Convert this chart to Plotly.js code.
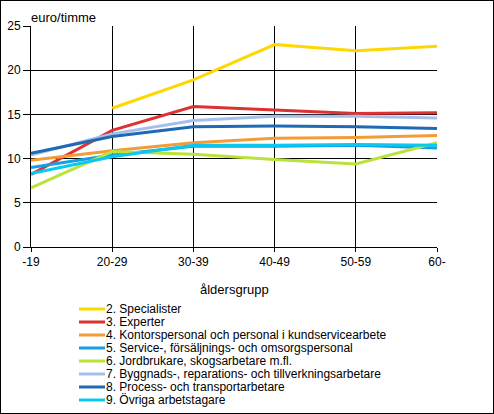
<!DOCTYPE html>
<html>
<head>
<meta charset="utf-8">
<script src="https://cdn.plot.ly/plotly-3.0.1.min.js"></script>
<style>
  body { margin: 0; background: #fff; }
  #chart { width: 492px; height: 412px; border: 1px solid #000; }
</style>
</head>
<body>
<div id="chart"></div>
<script>
var ageGroups = ["-19", "20-29", "30-39", "40-49", "50-59", "60-"];

var names = [
  "2. Specialister",
  "3. Experter",
  "4. Kontorspersonal och personal i kundservicearbete",
  "5. Service-, försäljnings- och omsorgspersonal",
  "6. Jordbrukare, skogsarbetare m.fl.",
  "7. Byggnads-, reparations- och tillverkningsarbetare",
  "8. Process- och transportarbetare",
  "9. Övriga arbetstagare"
];

var colors = ["#ffd700", "#dc3232", "#f29c38", "#14a0e6", "#b9e33a", "#a6beeb", "#1e6ab4", "#0ac8f0"];

// euro/timme per åldersgrupp
var specialister = [null, 15.7, 18.9, 22.9, 22.2, 22.7];
var experter     = [8.2, 13.2, 15.9, 15.5, 15.1, 15.2];
var kontor       = [9.8, 10.9, 11.8, 12.3, 12.4, 12.6];
var service      = [9.0, 10.4, 11.4, 11.4, 11.5, 11.2];
var jordbruk     = [6.7, 10.8, 10.5, 9.9, 9.4, 11.8];
var byggnad      = [10.4, 12.8, 14.3, 14.8, 14.8, 14.6];
var process      = [10.6, 12.5, 13.6, 13.7, 13.6, 13.4];
var ovriga       = [8.3, 10.2, 11.5, 11.5, 11.6, 11.5];

var series = [specialister, experter, kontor, service, jordbruk, byggnad, process, ovriga];

var data = [];
for (i = 0; i < series.length; i++) {
  data.push({
    x: ageGroups,
    y: series[i],
    name: names[i],
    type: "scatter",
    mode: "lines",
    line: { color: colors[i], width: 3 },
    connectgaps: false
  });
}

// legend drawn by hand so rows sit close together like the original
var shapes = [];
var annotations = [];
for (i = 0; i < names.length; i++) {
  var py = 309 + 13 * i;
  var yp = (247 - py) / 221;
  shapes.push({
    type: "line", xref: "paper", yref: "paper",
    x0: (79 - 31) / 406, x1: (105 - 31) / 406, y0: yp, y1: yp,
    line: { color: colors[i], width: 3 }
  });
  annotations.push({
    xref: "paper", yref: "paper", x: (105 - 31) / 406, y: yp,
    xanchor: "left", yanchor: "middle", showarrow: false, borderpad: 0,
    text: names[i], font: { size: 12, color: "#000" }
  });
}
annotations.push({
  xref: "paper", yref: "paper", x: -0.006, y: 1.04,
  xanchor: "left", yanchor: "middle", showarrow: false,
  text: "euro/timme", font: { size: 13, color: "#000" }
});
annotations.push({
  xref: "paper", yref: "paper", x: 0.5, y: (247 - 289) / 221,
  xanchor: "center", yanchor: "middle", showarrow: false,
  text: "åldersgrupp", font: { size: 13, color: "#000" }
});

var layout = {
  width: 492,
  height: 412,
  margin: { l: 30, r: 56, t: 25, b: 166 },
  paper_bgcolor: "#fff",
  plot_bgcolor: "#fff",
  font: { family: "Liberation Sans, Arial, sans-serif", size: 12, color: "#000" },
  showlegend: false,
  hovermode: false,
  xaxis: {
    type: "category",
    range: [0, 5],
    showgrid: true,
    gridcolor: "#000",
    gridwidth: 1,
    showline: true,
    linecolor: "#000",
    linewidth: 1,
    ticks: "outside",
    ticklen: 4,
    tickcolor: "#000",
    zeroline: false,
    fixedrange: true
  },
  yaxis: {
    range: [0, 25],
    dtick: 5,
    showgrid: true,
    gridcolor: "#000",
    gridwidth: 1,
    showline: true,
    linecolor: "#000",
    linewidth: 1,
    ticks: "outside",
    ticklen: 7,
    tickcolor: "#000",
    zeroline: false,
    fixedrange: true
  },
  shapes: shapes,
  annotations: annotations
};

Plotly.newPlot("chart", data, layout, { displayModeBar: false, staticPlot: true });
</script>
</body>
</html>
